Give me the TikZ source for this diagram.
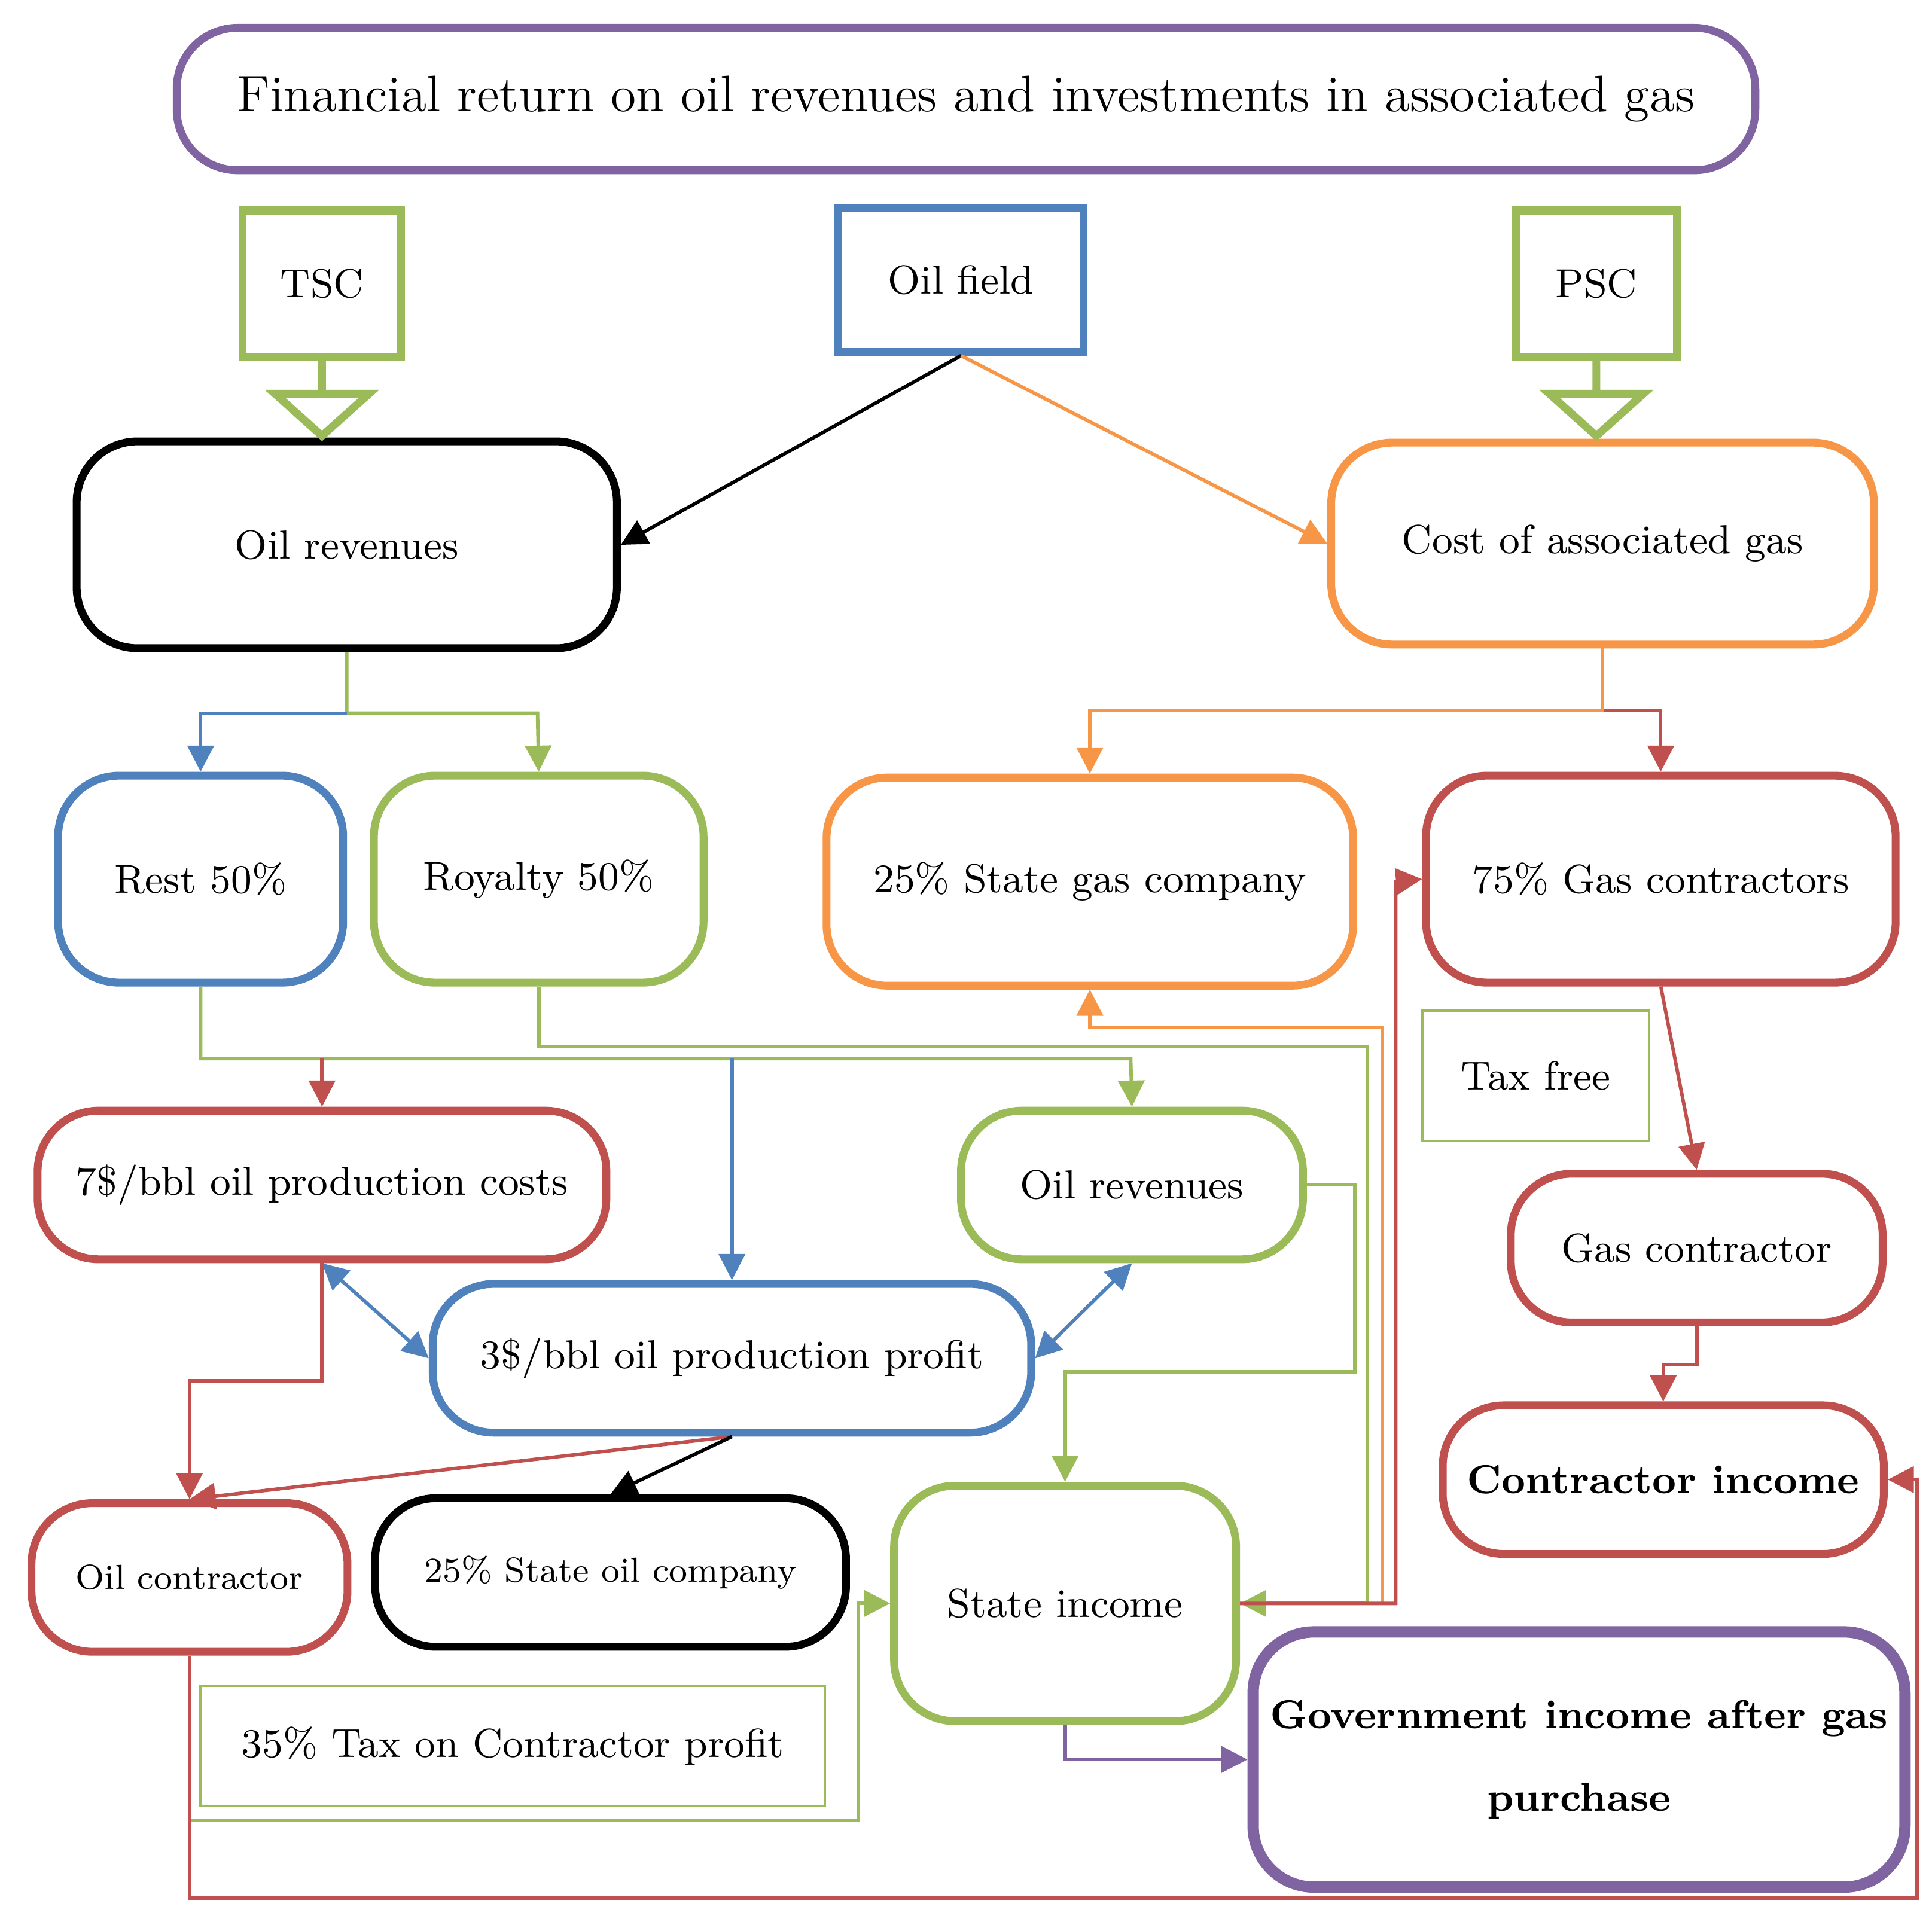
\documentclass[tikz,border=0pt]{standalone}
\usetikzlibrary{arrows.meta}
\definecolor{cblue}{RGB}{79,129,189}
\definecolor{cgreen}{RGB}{155,187,89}
\definecolor{cred}{RGB}{192,80,77}
\definecolor{corange}{RGB}{247,150,70}
\definecolor{cpurple}{RGB}{128,100,162}
\begin{document}
\begin{tikzpicture}[x=0.01cm,y=-0.01cm,>={Triangle[length=6pt,width=6pt]}]
  \tikzstyle{box}=[rounded corners=14pt,line width=1.8pt,inner sep=1pt,font=\fontsize{9.3}{11}\selectfont]
  \tikzstyle{sq}=[line width=1.8pt,inner sep=1pt,font=\fontsize{9.3}{11}\selectfont]
  \tikzstyle{thin}=[draw=cgreen,line width=0.6pt,inner sep=1pt,font=\fontsize{9.3}{11}\selectfont]
  \tikzstyle{edge}=[line width=0.8pt]
  \useasboundingbox (0,0) rectangle (1560,1547);

  % boxes
  \node [box,draw=cpurple,minimum width=12.74cm,minimum height=1.15cm,font=\fontsize{11.8}{14}\selectfont] (title) at (780,80) {Financial return on oil revenues and investments in associated gas};
  \node [sq,draw=cgreen,minimum width=1.28cm,minimum height=1.18cm] (tsc) at (260,229) {TSC};
  \node [sq,draw=cblue,minimum width=1.98cm,minimum height=1.16cm] (field) at (776,226) {Oil field};
  \node [sq,draw=cgreen,minimum width=1.30cm,minimum height=1.18cm] (psc) at (1289,229) {PSC};
  \node [box,draw=black,minimum width=4.36cm,minimum height=1.67cm] (oilrev) at (280,440) {Oil revenues};
  \node [box,draw=corange,minimum width=4.38cm,minimum height=1.63cm] (cost) at (1294,439) {Cost of associated gas};
  \node [box,draw=cblue,minimum width=2.30cm,minimum height=1.67cm] (rest) at (162,710) {Rest 50\%};
  \node [box,draw=cgreen,minimum width=2.66cm,minimum height=1.67cm] (roy) at (435,710) {Royalty 50\%};
  \node [box,draw=corange,minimum width=4.25cm,minimum height=1.68cm] (sgas) at (880,712) {25\% State gas company};
  \node [box,draw=cred,minimum width=3.79cm,minimum height=1.67cm] (gasc) at (1341,710) {75\% Gas contractors};
  \node [thin,minimum width=1.83cm,minimum height=1.05cm] (taxfree) at (1240,869) {Tax free};
  \node [box,draw=cred,minimum width=4.59cm,minimum height=1.20cm] (cost7) at (260,957) {7\$/bbl oil production costs};
  \node [box,draw=cgreen,minimum width=2.76cm,minimum height=1.20cm] (oilrev2) at (914,957) {Oil revenues};
  \node [box,draw=cred,minimum width=3.00cm,minimum height=1.20cm] (gasc2) at (1370,1008) {Gas contractor};
  \node [box,draw=cblue,minimum width=4.83cm,minimum height=1.20cm] (prof3) at (591,1097) {3\$/bbl oil production profit};
  \node [box,draw=cred,minimum width=3.56cm,minimum height=1.20cm,font=\fontsize{9.3}{11}\selectfont\bfseries] (cinc) at (1343,1195) {Contractor income};
  \node [box,draw=cred,minimum width=2.55cm,minimum height=1.20cm,font=\fontsize{8}{10}\selectfont] (oilc) at (153,1274) {Oil contractor};
  \node [box,draw=black,minimum width=3.80cm,minimum height=1.20cm,font=\fontsize{8}{10}\selectfont] (soil) at (493,1270) {25\% State oil company};
  \node [box,draw=cgreen,minimum width=2.76cm,minimum height=1.90cm] (sinc) at (860,1295) {State income};
  \node [box,draw=cpurple,line width=2.6pt,minimum width=5.26cm,minimum height=2.06cm,align=center,font=\fontsize{9.3}{19}\selectfont\bfseries] (gov) at (1275,1421) {Government income after gas\\purchase};
  \node [thin,minimum width=5.04cm,minimum height=0.97cm] (tax35) at (414,1410) {35\% Tax on Contractor profit};

  % hollow arrows
  \draw [cgreen,line width=1.8pt] (tsc.south) -- (260,318) -- (222,318) -- (260,352) -- (298,318) -- (260,318);
  \draw [cgreen,line width=1.8pt] (psc.south) -- (1289,318) -- (1251,318) -- (1289,352) -- (1327,318) -- (1289,318);

  % connectors
  \draw [edge,->,black] (field.south) -- (oilrev.east);
  \draw [edge,->,corange] (field.south) -- (cost.west);
  \draw [edge,->,cgreen] (oilrev.south) |- (434,576) -- (roy.north);
  \draw [edge,->,cblue] (280,576) -| (rest.north);
  \draw [edge,->,corange] (cost.south) |- (880,574) -- (sgas.north);
  \draw [edge,->,cred] (1295,574) -| (gasc.north);
  \draw [edge,->,cgreen] (rest.south) |- (913,855) -- (oilrev2.north);
  \draw [edge,->,cred] (260,855) -- (cost7.north);
  \draw [edge,->,cblue] (591,855) -- (prof3.north);
  \draw [edge,->,cgreen] (roy.south) |- (1104,845) |- (sinc.east);
  \draw [edge,->,corange] (1116,1295) |- (880,830) -- (sgas.south);
  \draw [edge,->,cred] (sinc.east) -| (1127,712) -- (gasc.west);
  \draw [edge,->,cred] (gasc.south) -- (gasc2.north);
  \draw [edge,->,cred] (gasc2.south) |- (1343,1102) -- (cinc.north);
  \draw [edge,->,cgreen] (oilrev2.east) -| (1094,1108) -| (sinc.north);
  \draw [edge,<->,cblue] (cost7.south) -- (prof3.west);
  \draw [edge,<->,cblue] (oilrev2.south) -- (prof3.east);
  \draw [edge,->,cred] (cost7.south) |- (153,1115) -- (oilc.north);
  \draw [edge,->,cred] (prof3.south) -- (oilc.north);
  \draw [edge,->,black] (prof3.south) -- (soil.north);
  \draw [edge,->,cgreen] (oilc.south) |- (693,1470) |- (sinc.west);
  \draw [edge,->,cred] (oilc.south) |- (1548,1533) |- (cinc.east);
  \draw [edge,->,cpurple] (sinc.south) |- (gov.west);
\end{tikzpicture}
\end{document}
